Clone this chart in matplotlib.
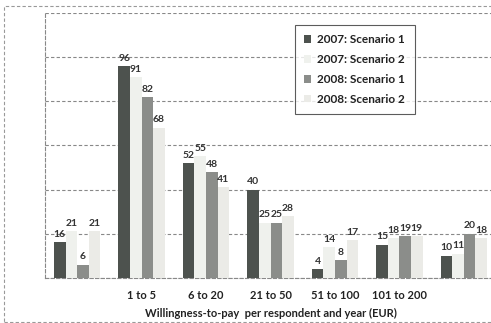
import numpy as np
import matplotlib
matplotlib.use("Agg")
import matplotlib.pyplot as plt
from matplotlib.patches import Rectangle

plt.rcParams['font.family'] = ['Lato', 'DejaVu Sans']

categories = ['', '1 to 5', '6 to 20', '21 to 50', '51 to 100', '101 to 200', '']
series_names = ['2007: Scenario 1', '2007: Scenario 2', '2008: Scenario 1', '2008: Scenario 2']
s2007_1 = [16, 96, 52, 40, 4, 15, 10]
s2007_2 = [21, 91, 55, 25, 14, 18, 11]
s2008_1 = [6, 82, 48, 25, 8, 19, 20]
s2008_2 = [21, 68, 41, 28, 17, 19, 18]
colors = ['#4d524e', '#eff1ed', '#8b8d8a', '#ebebe7']

fig = plt.figure(figsize=(4.91, 3.23), dpi=100)
ax = fig.add_axes([0.0917, 0.140, 0.9185, 0.8195])

# outer dashed border of the chart
fig.patches.append(Rectangle((4 / 491, 1 / 323), 1.1, 316 / 323, transform=fig.transFigure,
                             fill=False, ls=(0, (3, 2)), lw=0.8, ec='#999999'))

x = np.arange(len(categories))
w = 0.18
all_series = [s2007_1, s2007_2, s2008_1, s2008_2]
for i, vals in enumerate(all_series):
    pos = x + (i - 1.5) * w
    ax.bar(pos, vals, w, color=colors[i], label=series_names[i], zorder=3)
    for p, v in zip(pos, vals):
        ax.text(p, v + 1.5, str(v), ha='center', va='bottom', fontsize=7.5,
                fontweight='bold', color='#333333', zorder=4)

ax.set_xlim(-0.5, 6.5)
ax.set_ylim(0, 120)
ax.set_yticks(np.arange(0, 121, 20))
ax.set_yticklabels([])
ax.tick_params(axis='y', length=0)
ax.tick_params(axis='x', length=0, pad=9)
ax.set_xticks(x)
ax.set_xticklabels(categories, fontsize=8, fontweight='bold', color='#222222')
ax.grid(axis='y', ls=(0, (3, 2)), lw=0.8, color='#888888', zorder=0)
for s in ['left', 'bottom']:
    ax.spines[s].set_linestyle((0, (3, 2)))
    ax.spines[s].set_color('#888888')
    ax.spines[s].set_linewidth(0.8)
for s in ['top', 'right']:
    ax.spines[s].set_visible(False)

ax.set_xlabel('Willingness-to-pay  per respondent and year (EUR)', fontsize=8,
              fontweight='bold', color='#222222', labelpad=5)

leg = ax.legend(loc='upper left', bbox_to_anchor=(0.541, 0.978), fontsize=8.5,
                frameon=True, fancybox=False, edgecolor='#333333',
                handlelength=0.6, handleheight=0.6, labelspacing=0.75,
                borderpad=0.8, handletextpad=0.5)
leg.get_frame().set_linewidth(0.8)
for t in leg.get_texts():
    t.set_fontweight('bold')
    t.set_color('#222222')

fig.savefig('out.png', dpi=100)
